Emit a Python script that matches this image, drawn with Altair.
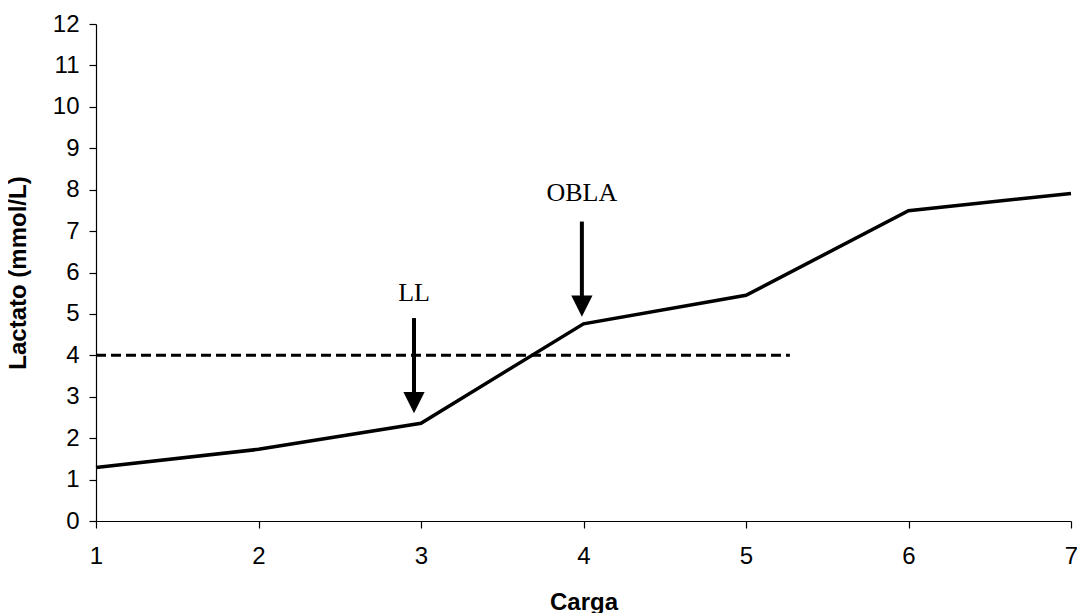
import altair as alt
import pandas as pd

carga = [1, 2, 3, 4, 5, 6, 7]
lactato = [1.29, 1.73, 2.36, 4.76, 5.45, 7.49, 7.91]

ref_x = [1, 5.27]
ref_y = [4, 4]

arrow_labels = ["LL", "OBLA"]
arrow_x = [2.957, 3.99]
arrow_top = [4.90, 7.23]
arrow_tip = [2.60, 4.93]
label_y = [5.51, 7.92]

df = pd.DataFrame({"carga": carga, "lactato": lactato})
ref = pd.DataFrame({"x": ref_x, "y": ref_y})
arr = pd.DataFrame({"label": arrow_labels, "x": arrow_x, "top": arrow_top,
                    "tip": arrow_tip, "ly": label_y})

xs = alt.Scale(domain=[1, 7], nice=False, zero=False)
ys = alt.Scale(domain=[0, 12], nice=False)

xaxis = alt.Axis(values=carga, format="d", title="Carga", grid=False, labelFontSize=24,
                 titleFontSize=24, titleFontWeight="bold", labelPadding=16,
                 titlePadding=22, tickSize=7, domainColor="black", tickColor="black",
                 labelColor="black", titleColor="black", labelFont="Liberation Sans",
                 titleFont="Liberation Sans", domainWidth=1.2, tickWidth=1.2,
                 labelFlush=False)
yaxis = alt.Axis(values=list(range(13)), format="d", title="Lactato (mmol/L)", grid=False,
                 labelFontSize=24, titleFontSize=24, titleFontWeight="bold",
                 labelPadding=10, titlePadding=22, tickSize=7, domainColor="black",
                 tickColor="black", labelColor="black", titleColor="black",
                 labelFont="Liberation Sans", titleFont="Liberation Sans",
                 domainWidth=1.2, tickWidth=1.2, labelFlush=False)

line = alt.Chart(df).mark_line(color="black", strokeWidth=3.5).encode(
    x=alt.X("carga:Q", scale=xs, axis=xaxis),
    y=alt.Y("lactato:Q", scale=ys, axis=yaxis),
)

dash = alt.Chart(ref).mark_line(color="black", strokeWidth=3, strokeDash=[10, 5]).encode(
    x=alt.X("x:Q", scale=xs), y=alt.Y("y:Q", scale=ys)
)

shaft = alt.Chart(arr).mark_rule(color="black", strokeWidth=4, y2Offset=-12).encode(
    x=alt.X("x:Q", scale=xs), y=alt.Y("top:Q", scale=ys), y2=alt.Y2("tip:Q")
)

head = alt.Chart(arr).mark_point(
    shape="M-1,-2L1,-2L0,0Z", filled=True, color="black", opacity=1, size=450, strokeWidth=0
).encode(x=alt.X("x:Q", scale=xs), y=alt.Y("tip:Q", scale=ys))

text = alt.Chart(arr).mark_text(font="Liberation Serif", fontSize=26, color="black",
                                baseline="middle", align="center").encode(
    x=alt.X("x:Q", scale=xs), y=alt.Y("ly:Q", scale=ys), text="label:N"
)

chart = alt.layer(dash, line, shaft, head, text).properties(
    width=975, height=497,
    autosize=alt.AutoSizeParams(type="none"),
    padding={"left": 88, "top": 16, "right": 6, "bottom": 92},
).configure_view(stroke=None)

chart.save("out.html", embed_options={"renderer": "svg", "actions": False})
